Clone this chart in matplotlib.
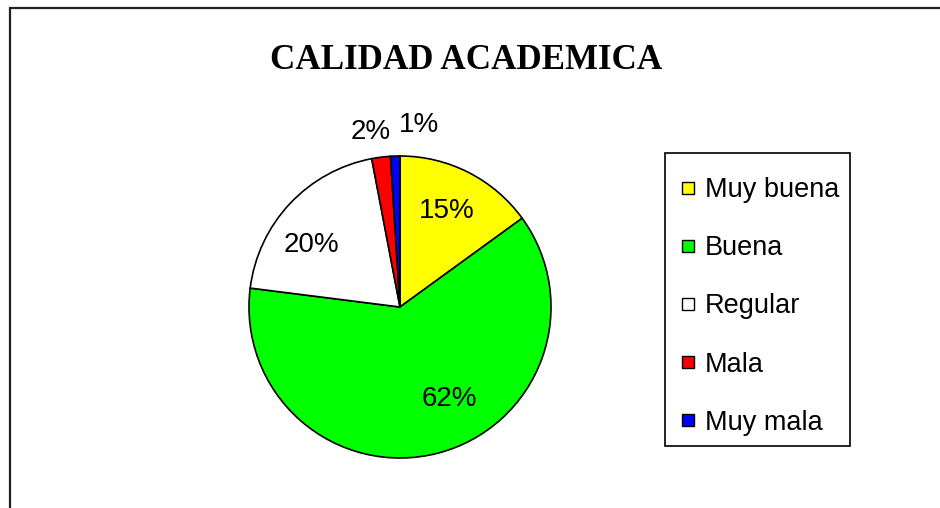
import math
import matplotlib.pyplot as plt
from matplotlib.lines import Line2D
from matplotlib.patches import Rectangle

title = "CALIDAD ACADEMICA"
categories = ["Muy buena", "Buena", "Regular", "Mala", "Muy mala"]
values = [15, 62, 20, 2, 1]
colors = ["#FFFF00", "#00FF00", "#FFFFFF", "#FF0000", "#0000FF"]

W, H = 940, 508
fig = plt.figure(figsize=(W / 100, H / 100), dpi=100)

# outer chart frame (cut off on right and bottom as in the original)
fig.patches.append(Rectangle((10 / W, -0.1), 1.2, (H - 8.5) / H + 0.1,
                             transform=fig.transFigure, fill=False,
                             edgecolor="#222222", linewidth=1.6))

fig.text(466 / W, 1 - 69 / H, title, ha="center", va="baseline",
         fontsize=25.2, fontweight="bold", family="Liberation Serif")

# pie axes: centre (400, 307) px, radius 151 px
r = 151
ax = fig.add_axes([(400 - r) / W, (H - 307 - r) / H, 2 * r / W, 2 * r / H])
wedges, _ = ax.pie(values, colors=colors, startangle=90, counterclock=False,
                   wedgeprops=dict(edgecolor="black", linewidth=1.2))
for w in wedges:
    w.set_clip_on(False)
ax.set_xlim(-1, 1)
ax.set_ylim(-1, 1)
ax.set_aspect("equal")
ax.axis("off")

# label placement: (angle in degrees, distance in radii)
label_pos = [(64, 0.71), (-62, 0.69), (145, 0.72), (99.5, 1.175), (84, 1.21)]
for v, (ang, d) in zip(values, label_pos):
    x = d * math.cos(math.radians(ang))
    y = d * math.sin(math.radians(ang))
    ax.text(x, y, f"{v}%", ha="center", va="center", fontsize=20,
            family="Liberation Sans", clip_on=False)

# legend box drawn separately so the padding matches the original
fig.patches.append(Rectangle((665 / W, 1 - 446 / H), 185 / W, 293 / H,
                             transform=fig.transFigure, fill=False,
                             edgecolor="black", linewidth=1.2))
handles = [Line2D([], [], marker="s", linestyle="none", markersize=8.6,
                  markerfacecolor=c, markeredgecolor="black", markeredgewidth=1)
           for c in colors]
fig.legend(handles, categories, loc="upper left",
           bbox_to_anchor=(682 / W, 1 - 177 / H),
           prop=dict(family="Liberation Sans", size=19.5),
           frameon=False, labelspacing=1.19, handlelength=0.45,
           handletextpad=0.4, borderpad=0, borderaxespad=0)

fig.savefig("out.png", dpi=100)
